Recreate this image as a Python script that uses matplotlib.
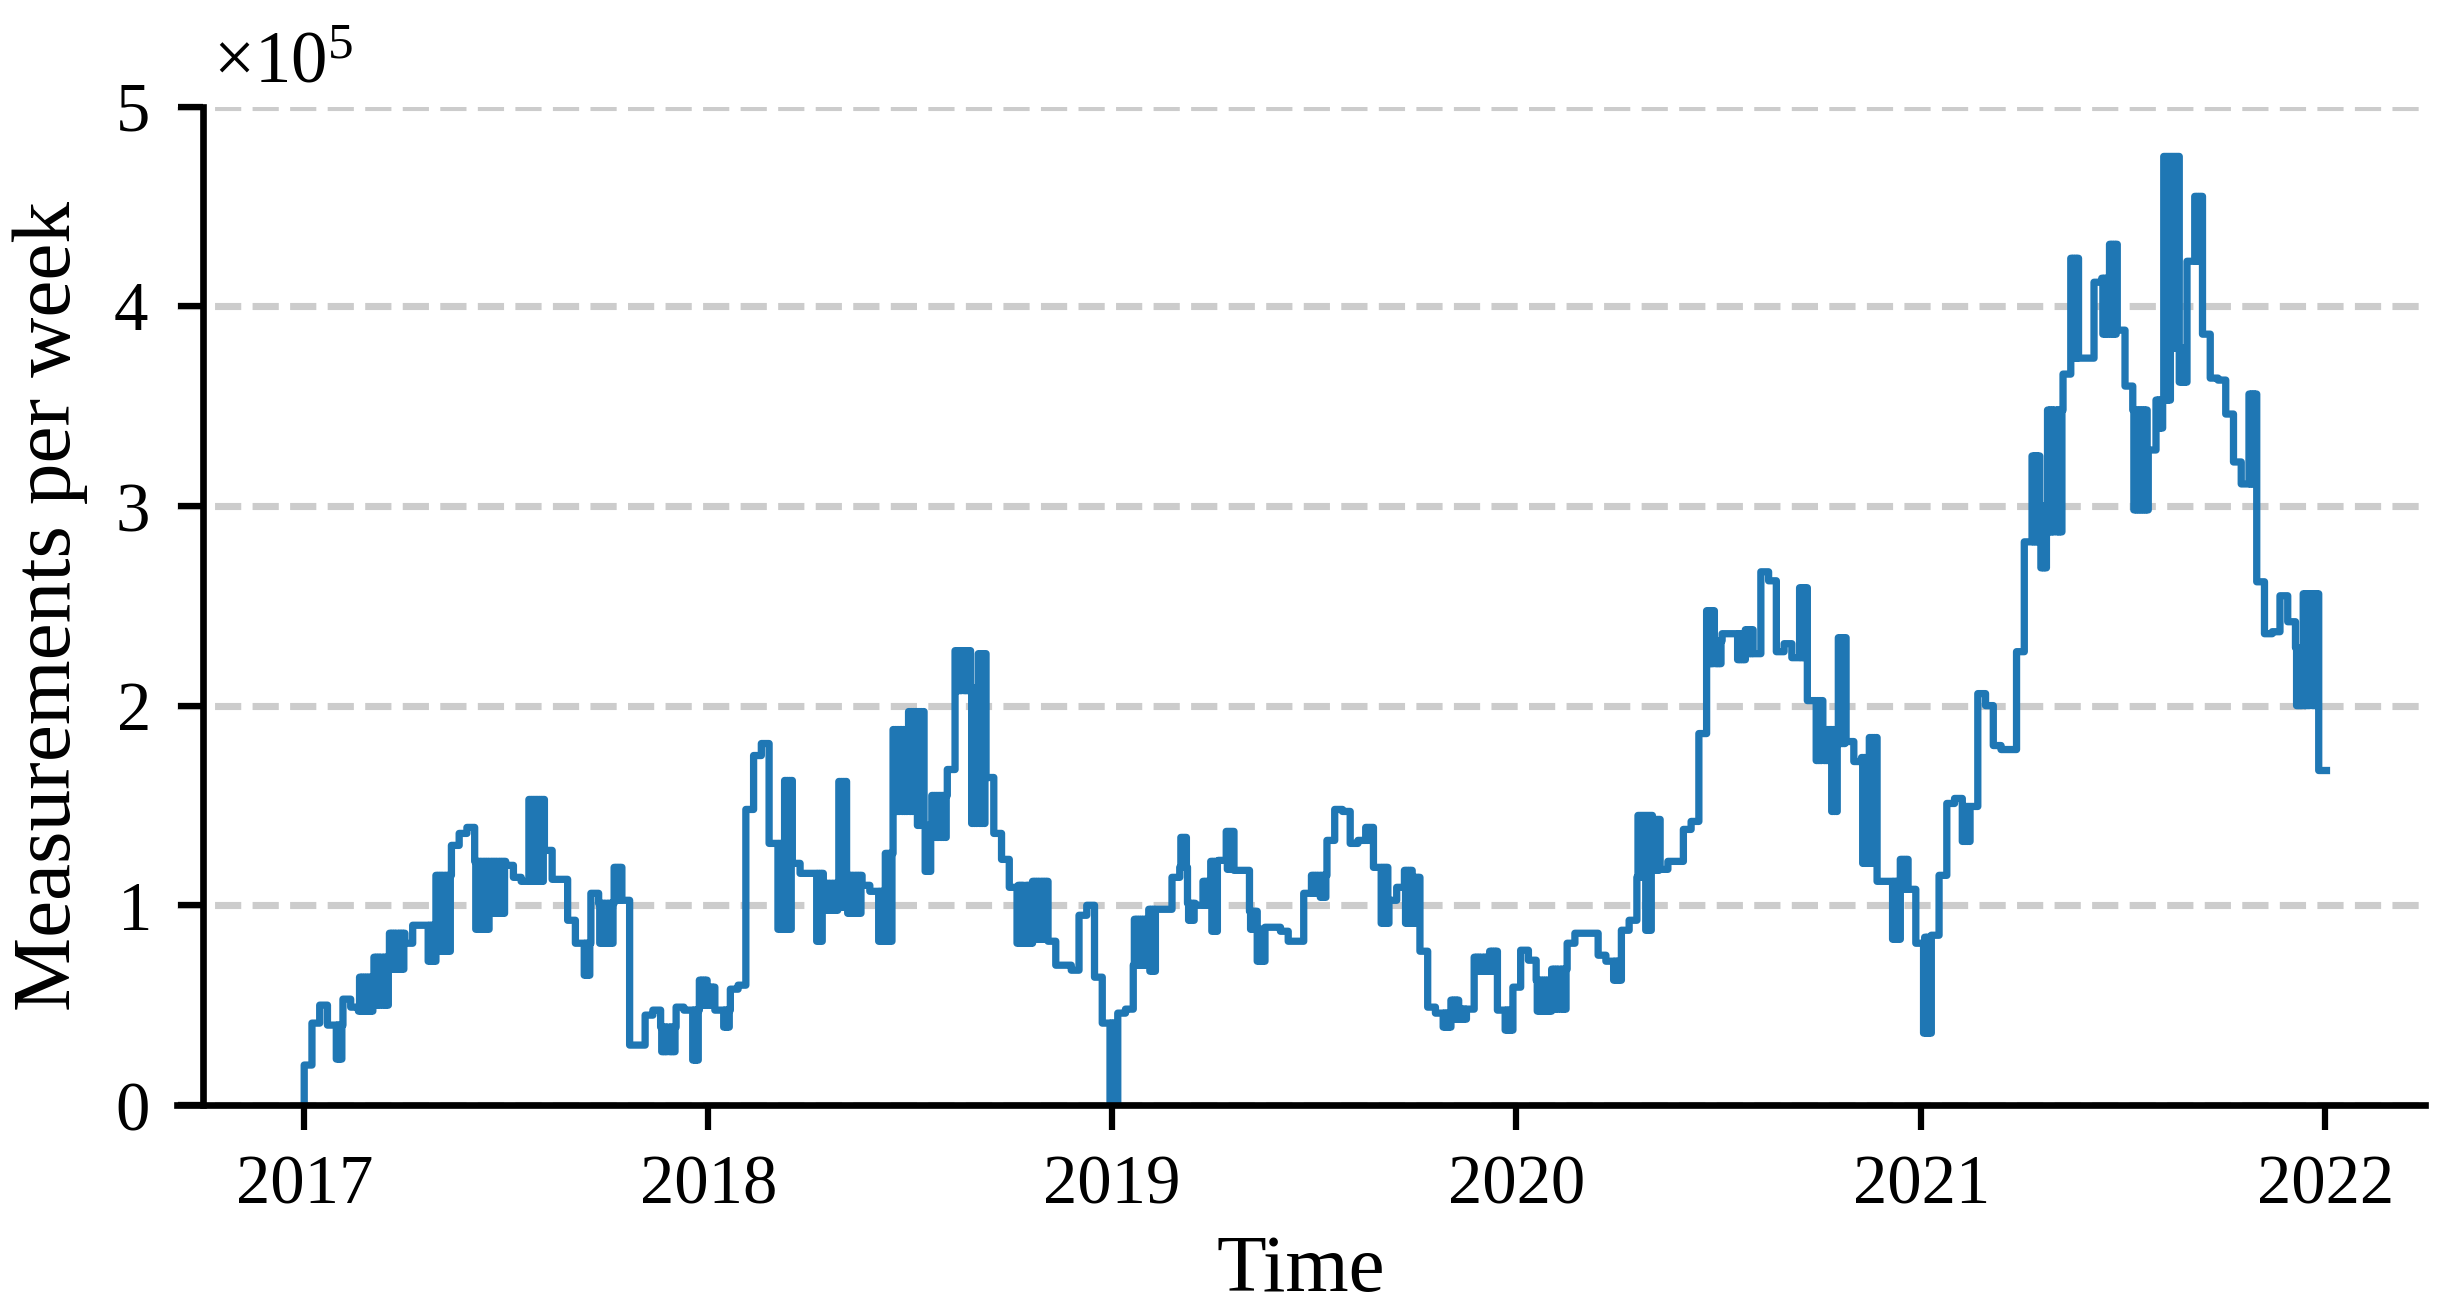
"""Weekly measurement counts, 2017-2021, drawn as a step line."""

import numpy as np
import matplotlib
matplotlib.use("Agg")
from matplotlib import pyplot as plt
from matplotlib import dates as mdates
from matplotlib.ticker import ScalarFormatter, MultipleLocator

plt.rcParams["font.family"] = ["Liberation Serif", "DejaVu Serif"]
plt.rcParams["mathtext.fontset"] = "custom"
plt.rcParams["mathtext.rm"] = "Liberation Serif"
plt.rcParams["mathtext.it"] = "Liberation Serif:italic"

# weekly counts in units of 1e5, one entry per week starting 2017-01-01
SCALE = 1e5
START = np.datetime64("2017-01-01")

# level of each week; where the series flickers inside a week,
# weekly_alt holds the other extreme (None otherwise)
weekly_level = [
    0.20, 0.41, 0.50, 0.40, 0.40, 0.53, 0.49, 0.47, 0.64, 0.74,
    0.74, 0.86, 0.86, 0.81, 0.90, 0.90, 0.72, 1.15, 1.15, 1.30,
    1.36, 1.39, 1.22, 1.22, 1.22, 1.22, 1.20, 1.14, 1.12, 1.53,
    1.53, 1.275, 1.13, 1.13, 0.925, 0.81, 0.81, 1.06, 1.01, 1.01,
    1.19, 1.025, 0.30, 0.30, 0.45, 0.475, 0.39, 0.39, 0.49, 0.475,
    0.475, 0.625, 0.59, 0.475, 0.475, 0.58, 0.60, 1.48, 1.75, 1.81,
    1.31, 1.31, 1.625, 1.21, 1.16, 1.16, 1.16, 1.11, 1.11, 1.62,
    1.15, 1.15, 1.10, 1.07, 1.07, 1.26, 1.88, 1.88, 1.97, 1.97,
    1.40, 1.55, 1.55, 1.68, 2.275, 2.275, 2.09, 2.26, 1.64, 1.36,
    1.23, 1.09, 0.81, 0.81, 1.12, 1.12, 0.82, 0.70, 0.70, 0.675,
    0.95, 1.00, 0.64, 0.41, 0.00, 0.46, 0.48, 0.70, 0.93, 0.98,
    0.98, 0.98, 1.14, 1.19, 1.01, 1.00, 1.12, 1.22, 1.225, 1.37,
    1.175, 1.175, 0.97, 0.72, 0.89, 0.89, 0.87, 0.82, 0.82, 1.06,
    1.15, 1.15, 1.325, 1.48, 1.47, 1.31, 1.325, 1.39, 1.19, 0.91,
    1.025, 1.09, 1.175, 1.14, 0.77, 0.49, 0.46, 0.39, 0.525, 0.43,
    0.48, 0.74, 0.74, 0.77, 0.475, 0.375, 0.59, 0.775, 0.725, 0.625,
    0.47, 0.68, 0.68, 0.81, 0.86, 0.86, 0.86, 0.75, 0.72, 0.625,
    0.875, 0.925, 1.14, 1.45, 1.43, 1.18, 1.22, 1.22, 1.38, 1.42,
    1.86, 2.475, 2.325, 2.36, 2.36, 2.23, 2.38, 2.26, 2.67, 2.625,
    2.27, 2.31, 2.24, 2.59, 2.025, 2.025, 1.88, 1.88, 2.34, 1.82,
    1.72, 1.74, 1.84, 1.12, 1.12, 0.83, 1.23, 1.08, 0.81, 0.36,
    0.85, 1.15, 1.51, 1.535, 1.32, 1.495, 2.06, 2.00, 1.80, 1.78,
    1.78, 2.27, 2.82, 3.25, 3.00, 3.48, 3.48, 3.66, 4.24, 3.74,
    3.74, 4.12, 4.14, 4.31, 3.88, 3.60, 3.48, 2.98, 3.28, 3.53,
    4.75, 4.75, 3.62, 4.225, 4.55, 3.86, 3.64, 3.63, 3.46, 3.22,
    3.11, 3.56, 2.62, 2.36, 2.37, 2.55, 2.42, 2.29, 2.56, 2.56,
    1.675,
]
weekly_alt = [
    None, None, None, None, 0.23, None, None, 0.64, 0.47, 0.50,
    0.50, 0.68, 0.68, None, None, None, 0.90, 0.77, 0.77, None,
    None, None, 0.88, 0.88, 0.96, 0.96, None, None, None, 1.12,
    1.12, None, None, None, None, None, 0.65, None, 0.81, 0.81,
    1.025, None, None, None, None, None, 0.267, 0.267, None, None,
    0.225, 0.50, 0.50, None, 0.39, None, None, None, None, None,
    None, 0.88, 0.88, None, None, None, 0.82, 0.975, 0.975, 0.99,
    0.96, 0.96, None, None, 0.82, 0.82, 1.47, 1.47, 1.47, 1.40,
    1.17, 1.34, 1.34, None, 2.075, 2.075, 1.41, 1.41, None, None,
    None, None, 1.10, 1.10, 0.83, 0.83, None, None, None, None,
    None, None, None, None, 0.41, None, None, 0.93, 0.70, 0.67,
    None, None, None, 1.34, 0.925, None, 1.00, 0.87, None, 1.18,
    None, None, 0.88, 0.88, None, None, None, None, None, None,
    1.06, 1.04, None, None, None, None, None, 1.325, None, 1.19,
    None, None, 0.91, 0.91, None, None, None, 0.46, 0.43, 0.48,
    None, 0.67, 0.67, 0.67, None, 0.475, None, None, None, 0.47,
    0.625, 0.48, 0.48, None, None, None, None, None, None, 0.72,
    None, None, 1.45, 0.875, 1.175, None, None, None, None, None,
    None, 2.21, 2.21, None, None, 2.36, 2.26, None, None, None,
    None, None, None, 2.24, None, 1.725, 1.725, 1.47, 1.81, None,
    None, 1.21, 1.21, None, None, 1.12, 1.08, None, None, 0.84,
    None, None, None, None, 1.495, None, None, None, None, None,
    None, None, None, 2.82, 2.69, 2.87, 2.87, None, 3.74, None,
    None, None, 3.86, 3.86, None, None, 2.98, 3.48, None, 3.39,
    3.53, 3.79, 3.79, None, 4.225, None, None, None, None, None,
    None, 3.11, None, None, None, None, None, 2.00, 2.00, 2.00,
    None,
]


def expand_daily(levels, alts):
    """Turn weekly levels into a day-resolution step series."""
    days, vals = [START], [0.0]
    for week, (level, alt) in enumerate(zip(levels, alts)):
        week_start = START + np.timedelta64(7 * week, "D")
        if alt is None:
            days.append(week_start)
            vals.append(level)
            continue
        for d in range(7):
            days.append(week_start + np.timedelta64(d, "D"))
            vals.append(level if d % 2 == 0 else alt)
    days.append(START + np.timedelta64(7 * len(levels), "D"))
    vals.append(levels[-1])
    return np.array(days), np.array(vals) * SCALE


def main() -> None:
    days, counts = expand_daily(weekly_level, weekly_alt)

    fig = plt.figure(figsize=(2447 / 300, 1315 / 300), dpi=300)
    ax = fig.add_axes([0.0723, 0.1597, 0.9187, 0.7593])

    ax.step(days, counts, where="post", color="#1f77b4", lw=1.75)

    ax.set_xlim(np.datetime64("2016-09-08"), np.datetime64("2022-04-01"))
    ax.set_ylim(0, 5 * SCALE)

    ax.xaxis.set_major_locator(mdates.YearLocator())
    ax.xaxis.set_major_formatter(mdates.DateFormatter("%Y"))
    ax.yaxis.set_major_locator(MultipleLocator(SCALE))
    fmt = ScalarFormatter(useMathText=True)
    fmt.set_powerlimits((0, 0))
    ax.yaxis.set_major_formatter(fmt)
    ax.yaxis.get_offset_text().set_visible(False)
    fig.text(0.087, 0.937, r"$\times\mathdefault{10}^{5}$", fontsize=17.5,
             ha="left", va="baseline")

    ax.yaxis.grid(True, linestyle="--", color="#cccccc", lw=1.7)
    ax.xaxis.grid(False)
    ax.set_axisbelow(True)

    for side in ("top", "right"):
        ax.spines[side].set_visible(False)
    ax.spines["left"].set_position(("axes", 0.0116))
    for side in ("left", "bottom"):
        ax.spines[side].set_linewidth(1.6)

    ax.tick_params(axis="both", direction="out", length=6, width=1.5,
                   labelsize=16.5)
    ax.tick_params(axis="x", pad=6)
    ax.tick_params(axis="y", pad=7)

    ax.set_xlabel("Time", fontsize=19.5, labelpad=4)
    ax.set_ylabel("Measurements per week", fontsize=20, labelpad=6)

    fig.savefig("out.png", dpi=300)
    plt.close(fig)


if __name__ == "__main__":
    main()
